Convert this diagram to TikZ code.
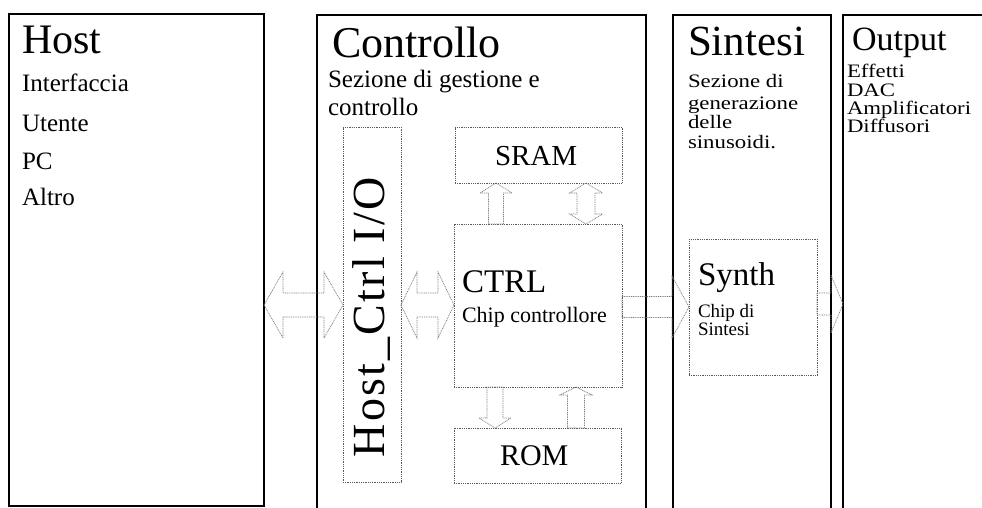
\documentclass[tikz,border=0pt]{standalone}
\usepackage{fontspec}
\setmainfont{Liberation Serif}
\newfontfamily\widefont[FakeStretch=1.2]{Liberation Serif}
\usetikzlibrary{calc}
\newcommand\fs[2]{\fontsize{#1}{#2}\selectfont}
\tikzset{
  outerbox/.style={draw=black, line width=1.3pt, inner sep=0pt, outer sep=0pt, anchor=north west},
  innerbox/.style={draw=black!65, line width=0.7pt, dash pattern=on 1pt off 0.8pt, inner sep=0pt, outer sep=0pt, anchor=north west},
  blk/.style={draw=black!50, line width=0.7pt, dash pattern=on 1pt off 0.8pt, line join=miter},
  txt/.style={inner sep=0pt, outer sep=0pt, anchor=base west, text=black},
}
% horizontal double block arrow: left tip, right tip, head length, head half width, shaft half width
\newcommand\HDouble[5]{\draw[blk] let \p1=(#1), \p2=(#2) in
 (\x1,\y1) -- (\x1+#3pt,\y1+#4pt) -- (\x1+#3pt,\y1+#5pt) -- (\x2-#3pt,\y1+#5pt) -- (\x2-#3pt,\y1+#4pt) -- (\x2,\y1)
 -- (\x2-#3pt,\y1-#4pt) -- (\x2-#3pt,\y1-#5pt) -- (\x1+#3pt,\y1-#5pt) -- (\x1+#3pt,\y1-#4pt) -- cycle;}
% horizontal single block arrow pointing right: tail, tip, head length, head half width, shaft half width
\newcommand\HSingle[5]{\draw[blk] let \p1=(#1), \p2=(#2) in
 (\x1,\y1+#5pt) -- (\x2-#3pt,\y1+#5pt) -- (\x2-#3pt,\y1+#4pt) -- (\x2,\y1) -- (\x2-#3pt,\y1-#4pt) -- (\x2-#3pt,\y1-#5pt) -- (\x1,\y1-#5pt) -- cycle;}
% vertical single block arrow: tail, tip, head length, head half, shaft half, sign (- for up, + for down)
\newcommand\VSingle[6]{\draw[blk] let \p1=(#1), \p2=(#2) in
 (\x1+#5pt,\y1) -- (\x1+#5pt,\y2#6#3pt) -- (\x1+#4pt,\y2#6#3pt) -- (\x1,\y2) -- (\x1-#4pt,\y2#6#3pt) -- (\x1-#5pt,\y2#6#3pt) -- (\x1-#5pt,\y1) -- cycle;}
% vertical double block arrow: top tip, bottom tip, head length, head half, shaft half
\newcommand\VDouble[5]{\draw[blk] let \p1=(#1), \p2=(#2) in
 (\x1,\y1) -- (\x1+#4pt,\y1-#3pt) -- (\x1+#5pt,\y1-#3pt) -- (\x1+#5pt,\y2+#3pt) -- (\x1+#4pt,\y2+#3pt) -- (\x1,\y2)
 -- (\x1-#4pt,\y2+#3pt) -- (\x1-#5pt,\y2+#3pt) -- (\x1-#5pt,\y1-#3pt) -- (\x1-#4pt,\y1-#3pt) -- cycle;}
\begin{document}
\begin{tikzpicture}[x=1pt,y=-1pt]
\useasboundingbox (0,0) rectangle (982,507);
\fill[white] (0,0) rectangle (982,507);

% outer sections
\node[outerbox, minimum width=255, minimum height=492] (host) at (9,14) {};
\node[outerbox, minimum width=329, minimum height=510] (ctl) at (317,15) {};
\node[outerbox, minimum width=158, minimum height=510] (syn) at (673,15) {};
\node[outerbox, minimum width=170, minimum height=510] (out) at (843,15) {};

% inner blocks
\node[innerbox, minimum width=58, minimum height=355] (hio) at (343,127) {};
\node[innerbox, minimum width=167, minimum height=56] (sram) at (455,127) {};
\node[innerbox, minimum width=168, minimum height=163] (ctrl) at (454,224) {};
\node[innerbox, minimum width=167, minimum height=55] (rom) at (454,428) {};
\node[innerbox, minimum width=128, minimum height=136] (synth) at (689,239) {};

% texts
\node[txt, font=\fs{42}{42}] (thost) at (22,53) {Host};
\node[txt, font=\fs{25}{30}] (h1) at (22,91) {Interfaccia};
\node[txt, font=\fs{25}{30}] (h2) at (22,131) {Utente};
\node[txt, font=\fs{25}{30}] (h3) at (22,169) {PC};
\node[txt, font=\fs{25}{30}] (h4) at (22,205) {Altro};

\node[txt, font=\fs{44}{44}] (tctl) at (332,57) {Controllo};
\node[txt, font=\fs{25}{30}] (c1) at (328,87) {Sezione di gestione e};
\node[txt, font=\fs{25}{30}] (c2) at (328,115) {controllo};

\node[txt, font=\fs{43}{43}] (tsyn) at (688,55) {Sintesi};
\node[txt, font=\widefont\fs{19}{19}] (s1) at (688,87) {Sezione di};
\node[txt, font=\widefont\fs{19}{19}] (s2) at (688,109) {generazione};
\node[txt, font=\widefont\fs{19}{19}] (s3) at (688,128) {delle};
\node[txt, font=\widefont\fs{19}{19}] (s4) at (688,148) {sinusoidi.};

\node[txt, font=\fs{34}{34}] (tout) at (852,50) {Output};
\node[txt, font=\widefont\fs{19}{19}] (o1) at (847,77) {Effetti};
\node[txt, font=\widefont\fs{19}{19}] (o2) at (847,96) {DAC};
\node[txt, font=\widefont\fs{19}{19}] (o3) at (847,114) {Amplificatori};
\node[txt, font=\widefont\fs{19}{19}] (o4) at (847,132) {Diffusori};

\node[txt, font=\fs{29}{29}] (tsram) at (495,165) {SRAM};
\node[txt, font=\fs{30}{30}] (trom) at (500,465) {ROM};
\node[txt, font=\fs{33}{33}] (tctrl) at (462,292) {CTRL};
\node[txt, font=\fs{22}{22}] (lctrl) at (462,322) {Chip controllore};
\node[txt, font=\fs{33}{33}] (tsynth) at (698,285) {Synth};
\node[txt, font=\fs{19}{19}] (ls1) at (698,317) {Chip di};
\node[txt, font=\fs{19}{19}] (ls2) at (698,335) {Sintesi};
\node[txt, rotate=90, font=\fs{46}{46}\addfontfeature{LetterSpace=5}] (thio) at (384,457) {Host\_Ctrl I/O};

% arrow reference coordinates
\coordinate (ya) at (0,305);
\coordinate (yb) at (0,307);
\coordinate (yc) at (0,304);
\coordinate (xa) at (496,0);
\coordinate (xb) at (586,0);
\coordinate (xc) at (495,0);
\coordinate (xd) at (576,0);

% block arrows
\HDouble{host.east |- ya}{hio.west |- ya}{19}{33}{12}
\HDouble{hio.east |- ya}{ctrl.west |- ya}{16}{33}{12}
\HSingle{ctrl.east |- yb}{synth.west |- yb}{17}{31}{10.5}
\HSingle{synth.east |- yc}{out.west |- yc}{12}{29}{11}
\VSingle{ctrl.north -| xa}{sram.south -| xa}{10}{16}{7.5}{-}
\VDouble{sram.south -| xb}{ctrl.north -| xb}{10}{16.5}{9}
\VSingle{ctrl.south -| xc}{rom.north -| xc}{10}{16}{8}{+}
\VSingle{rom.north -| xd}{ctrl.south -| xd}{8}{16}{8.5}{-}
\end{tikzpicture}
\end{document}
